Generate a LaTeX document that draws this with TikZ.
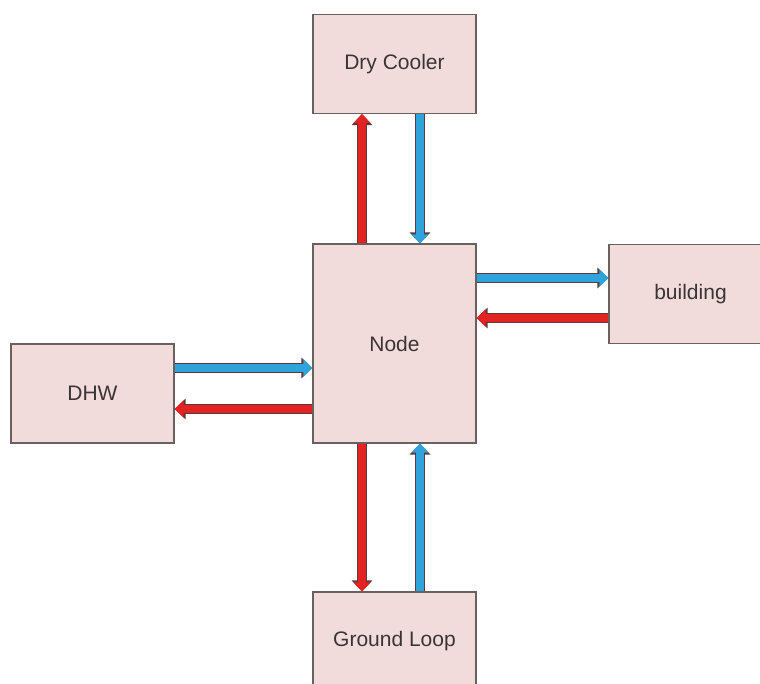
\documentclass[tikz,border=0pt]{standalone}
\usepackage{fontspec}
\setmainfont{Liberation Sans}
\usetikzlibrary{arrows.meta}

\definecolor{boxfill}{HTML}{F2DCDB}
\definecolor{boxline}{HTML}{6B6060}
\definecolor{hotred}{HTML}{E32222}
\definecolor{coldblue}{HTML}{2EA3DC}
\definecolor{arrowline}{HTML}{5A3A3A}
\definecolor{txt}{HTML}{3A3535}

\begin{document}
\begin{tikzpicture}[x=1pt,y=-1pt,
    unit/.style={draw=boxline, fill=boxfill, line width=1.2pt, minimum width=163pt,
                 minimum height=99pt, inner sep=0pt, text=txt, font=\fontsize{21}{24}\selectfont},
    hot/.style={line width=8pt, draw=hotred, -{Triangle[width=17pt,length=9pt]},
                preaction={draw=arrowline, line width=10pt, -{Triangle[width=20pt,length=11pt]}}},
    cold/.style={line width=8pt, draw=coldblue, -{Triangle[width=17pt,length=9pt]},
                preaction={draw=arrowline, line width=10pt, -{Triangle[width=20pt,length=11pt]}}}]
    \clip (0,0) rectangle (760,683);   % page frame

    % boxes
    \node[unit] (dry)      at (394.5,64)   {Dry Cooler};
    \node[unit, minimum height=199pt] (node) at (394.5,343.5) {Node};
    \node[unit] (building) at (690.5,294)  {building};
    \node[unit] (dhw)      at (92.5,393.5) {DHW};
    \node[unit] (ground)   at (394.5,641.5) {Ground Loop};

    % dry cooler loop
    \draw[hot]  ([xshift=-32.5pt]node.north) -- ([xshift=-32.5pt]dry.south);
    \draw[cold] ([xshift=25.5pt]dry.south)   -- ([xshift=25.5pt]node.north);

    % building loop
    \draw[cold] ([yshift=65.5pt]node.east)    -- ([yshift=16pt]building.west);
    \draw[hot]  ([yshift=-24pt]building.west) -- ([yshift=25.5pt]node.east);

    % DHW loop
    \draw[cold] ([yshift=25.5pt]dhw.east)    -- ([yshift=-24.5pt]node.west);
    \draw[hot]  ([yshift=-65.5pt]node.west)  -- ([yshift=-15.5pt]dhw.east);

    % ground loop
    \draw[hot]  ([xshift=-32.5pt]node.south)  -- ([xshift=-32.5pt]ground.north);
    \draw[cold] ([xshift=25.5pt]ground.north) -- ([xshift=25.5pt]node.south);
\end{tikzpicture}
\end{document}
